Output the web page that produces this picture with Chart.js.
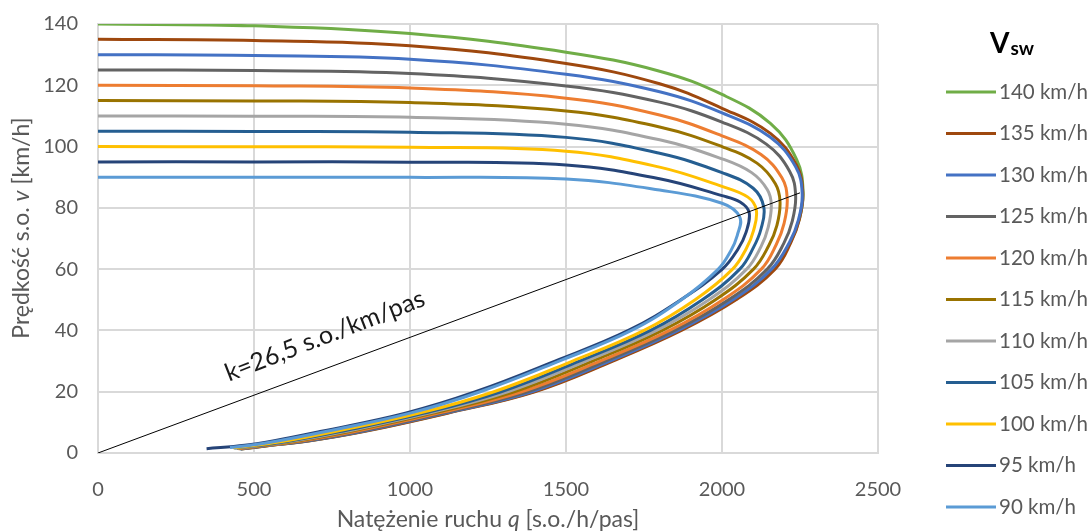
<!DOCTYPE html>
<html>
<head>
<meta charset="utf-8">
<script src="https://cdn.jsdelivr.net/npm/chart.js@4.4.1/dist/chart.umd.min.js"></script>
<style>
  html, body { margin: 0; padding: 0; background: #fff; }
  #wrap { width: 1089px; height: 532px; }
</style>
</head>
<body>
<div id="wrap"><canvas id="chart" width="1089" height="532"></canvas></div>
<script>
// ===== Data (q [s.o./h/pas], v [km/h]) =====
const xTicks = [0, 500, 1000, 1500, 2000, 2500];
const yTicks = [0, 20, 40, 60, 80, 100, 120, 140];

const speedLabels = ['140 km/h', '135 km/h', '130 km/h', '125 km/h', '120 km/h', '115 km/h',
                     '110 km/h', '105 km/h', '100 km/h', '95 km/h', '90 km/h'];
const speedColors = ['#70AD47', '#9E480E', '#4472C4', '#636363', '#ED7D31', '#997300',
                     '#A5A5A5', '#255E91', '#FFC000', '#264478', '#5B9BD5'];

const vsw140 = [[0,140],[500,139.4],[1000,136.9],[1500,130.8],[1800,124.6],[2000,117],[2156,107.5],[2239,95.8],[2260,85.3],[2248,76.4],[2220,68.9],[2165,60],[2040,50],[1865,40],[1645,30],[1395,20],[1116,13],[848,7],[677,4],[554,2.5],[457,1.3]];
const vsw135 = [[0,135],[500,134.6],[1000,132.9],[1500,127.1],[1800,120.5],[2000,112.5],[2155,104.3],[2238,94.1],[2259,85],[2248,76.25],[2221,68.75],[2170,60],[2045,50],[1870,40],[1650,30],[1400,20],[1120,13],[852,7],[680,4],[556,2.5],[458,1.3]];
const vsw130 = [[0,130],[500,129.7],[1000,128.5],[1500,123.6],[1800,117.9],[2000,111],[2154,103.1],[2236,93.4],[2257,84.8],[2245,76.1],[2216,68.7],[2159,60],[2035,50],[1860,40],[1640,30],[1390,20],[1113,13],[845,7],[674,4],[552,2.5],[456,1.33]];
const vsw125 = [[0,125],[500,124.8],[1000,123.85],[1500,119.8],[1800,114.5],[2000,108],[2142,100.8],[2217,91.9],[2236,84],[2225,75.6],[2198,68.4],[2145,60],[2021,50],[1848,40],[1626,30],[1376,20],[1103,13],[835,7],[666,4],[546,2.5],[453,1.37]];
const vsw120 = [[0,120],[500,119.85],[1000,119.1],[1500,115.8],[1800,110.3],[2000,103.5],[2125,97.4],[2192,89.8],[2209,83],[2199,74.95],[2174,68.05],[2126,60],[2003,50],[1832,40],[1609,30],[1358,20],[1091,13],[823,7],[656,4],[540,2.5],[450,1.42]];
const vsw115 = [[0,115],[500,114.9],[1000,114.35],[1500,111.6],[1800,106.4],[2000,100],[2112,94.6],[2171,87.9],[2186,82],[2176,74.3],[2150,67.7],[2101,60],[1979,50],[1809,40],[1585,30],[1334,20],[1074,13],[806,7],[642,4],[530,2.5],[445,1.49]];
const vsw110 = [[0,110],[500,109.9],[1000,109.55],[1500,107.3],[1800,102.2],[2000,96],[2095,91.5],[2145,86],[2158,81],[2148,73.65],[2125,67.35],[2079,60],[1958,50],[1790,40],[1564,30],[1313,20],[1060,13],[791,7],[630,4],[522,2.5],[440,1.55]];
const vsw105 = [[0,105],[500,104.95],[1000,104.7],[1500,103],[1800,97.8],[2000,91.5],[2100,86.4],[2134,80.2],[2125,73.1],[2101,67.1],[2057,60],[1937,50],[1771,40],[1543,30],[1292,20],[1046,13],[776,7],[618,4],[514,2.5],[436,1.61]];
const vsw100 = [[0,100],[500,99.95],[1000,99.8],[1500,98.5],[1800,93.3],[2000,87],[2083,83.5],[2110,79.3],[2101,72.55],[2078,66.75],[2034,60],[1914,50],[1750,40],[1521,30],[1269,20],[1030,13],[760,7],[605,4],[505,2.5],[432,1.68]];
const vsw95  = [[0,95],[500,95],[1000,94.9],[1500,94],[1800,89.5],[2000,84],[2058,81.9],[2087,78.5],[2077,72],[2051,66.5],[2001,60],[1868,50],[1700,40],[1465,30],[1210,20],[985,13],[712,7],[565,4],[470,2.5],[348,1.4]];
const vsw90  = [[0,90],[500,90],[1000,89.95],[1500,89.4],[1800,85.8],[2000,81.5],[2057,77],[2049,71.05],[2028,65.95],[1988,60],[1870,50],[1710,40],[1478,30],[1225,20],[1000,13],[730,7],[580,4],[488,2.5],[423,1.8]];

const curves = [vsw140, vsw135, vsw130, vsw125, vsw120, vsw115, vsw110, vsw105, vsw100, vsw95, vsw90];

// critical density line k = 26,5 s.o./km/pas
const kLine = [[0, 0], [2250, 84.9]];
const kLabel = 'k=26,5 s.o./km/pas';
const kLabelAt = [727, 38.2];

// ===== Defaults =====
const fontFamily = "Lato, 'Open Sans', sans-serif";
Chart.defaults.font.family = fontFamily;
Chart.defaults.font.size   = 20;
Chart.defaults.color       = '#595959';

const datasets = curves.map((pts, i) => ({
  label: speedLabels[i],
  data: pts.map(p => ({ x: p[0], y: p[1] })),
  borderColor: speedColors[i],
  backgroundColor: speedColors[i],
  borderWidth: 3,
  showLine: true,
  pointRadius: 0,
  tension: 0.4,
  fill: false,
  order: curves.length - i,
}));

datasets.push({
  label: 'k',
  data: kLine.map(p => ({ x: p[0], y: p[1] })),
  borderColor: '#000000',
  borderWidth: 1,
  showLine: true,
  pointRadius: 0,
  tension: 0,
  order: 0,
});

// ===== Helpers =====
function drawParts(ctx, parts, x, y) {
  let total = 0;
  parts.forEach(p => { ctx.font = p.font; p.w = ctx.measureText(p.text).width; total += p.w; });
  let cx = x - total / 2;
  parts.forEach(p => { ctx.font = p.font; ctx.fillText(p.text, cx, y); cx += p.w; });
}

const decorPlugin = {
  id: 'decor',
  afterDraw(chart) {
    const ctx = chart.ctx;
    const xs = chart.scales.x, ys = chart.scales.y;
    const reg = '23px ' + fontFamily;
    const ita = 'italic 23px ' + fontFamily;

    ctx.save();
    ctx.textAlign = 'left';
    ctx.textBaseline = 'middle';

    // annotation along the k line
    const ang = Math.atan2(ys.getPixelForValue(kLine[1][1]) - ys.getPixelForValue(0),
                           xs.getPixelForValue(kLine[1][0]) - xs.getPixelForValue(0)) - 0.015;
    ctx.save();
    ctx.translate(xs.getPixelForValue(kLabelAt[0]), ys.getPixelForValue(kLabelAt[1]));
    ctx.rotate(ang);
    ctx.fillStyle = '#1a1a1a';
    drawParts(ctx, [{ text: kLabel, font: '25px ' + fontFamily }], 0, 0);
    ctx.restore();

    // axis titles
    ctx.fillStyle = '#595959';
    ctx.save();
    ctx.translate(22, 228);
    ctx.rotate(-Math.PI / 2);
    drawParts(ctx, [
      { text: 'Prędkość s.o. ', font: reg },
      { text: 'v', font: ita },
      { text: ' [km/h]', font: reg },
    ], 0, 0);
    ctx.restore();

    drawParts(ctx, [
      { text: 'Natężenie ruchu ', font: reg },
      { text: 'q', font: ita },
      { text: ' [s.o./h/pas]', font: reg },
    ], 488, 520);

    // legend
    ctx.fillStyle = '#000000';
    ctx.textBaseline = 'alphabetic';
    ctx.font = 'bold 28px ' + fontFamily;
    ctx.fillText('V', 990, 53);
    const vw = ctx.measureText('V').width;
    ctx.font = 'bold 19px ' + fontFamily;
    ctx.fillText('sw', 990 + vw + 1, 55);

    ctx.textBaseline = 'middle';
    ctx.font = '20.5px ' + fontFamily;
    speedLabels.forEach((lab, i) => {
      const y = 92 + i * 41.5;
      ctx.strokeStyle = speedColors[i];
      ctx.lineWidth = 3;
      ctx.beginPath();
      ctx.moveTo(946, y);
      ctx.lineTo(996, y);
      ctx.stroke();
      ctx.fillStyle = '#595959';
      ctx.fillText(lab, 999, y);
    });
    ctx.restore();
  },
};

// ===== Chart =====
const ctx = document.getElementById('chart').getContext('2d');
new Chart(ctx, {
  type: 'scatter',
  data: { datasets },
  options: {
    responsive: false,
    animation: false,
    devicePixelRatio: 1,
    layout: { padding: { left: 0, right: 211, top: 24, bottom: 0 } },
    plugins: {
      legend: { display: false },
      tooltip: { enabled: false },
    },
    scales: {
      x: {
        type: 'linear',
        min: 0,
        max: 2500,
        afterBuildTicks: s => { s.ticks = xTicks.map(v => ({ value: v })); },
        afterFit: s => { s.height = 79; },
        grid: { color: '#d9d9d9', lineWidth: 2, drawTicks: false },
        border: { color: '#d9d9d9', width: 2 },
        ticks: { padding: 25, color: '#595959', font: { size: 20 }, callback: v => String(v) },
      },
      y: {
        type: 'linear',
        min: 0,
        max: 140,
        afterBuildTicks: s => { s.ticks = yTicks.map(v => ({ value: v })); },
        afterFit: s => { s.width = 98; s.paddingTop = 0; },
        grid: { color: '#d9d9d9', lineWidth: 2, drawTicks: false },
        border: { color: '#d9d9d9', width: 2 },
        ticks: { padding: 20, color: '#595959', font: { size: 20 }, callback: v => String(v) },
      },
    },
  },
  plugins: [decorPlugin],
});
</script>
</body>
</html>
